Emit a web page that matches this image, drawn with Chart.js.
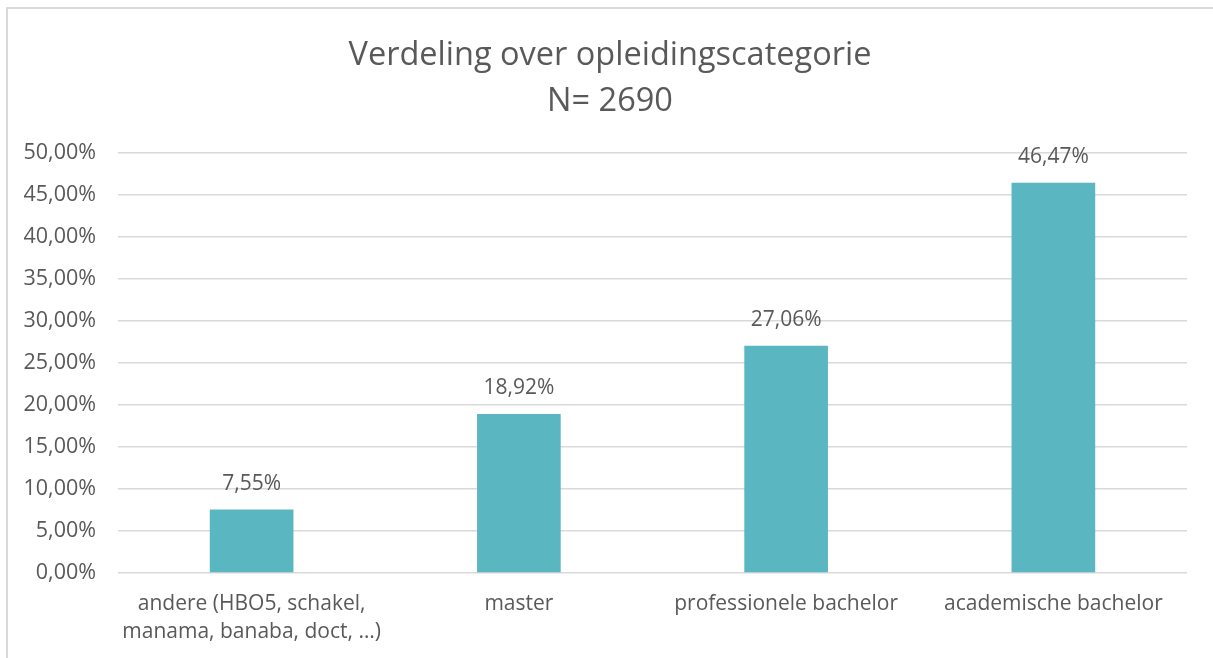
<!DOCTYPE html>
<html>
<head>
<meta charset="utf-8">
<script src="https://cdn.jsdelivr.net/npm/chart.js@4"></script>
<style>
  html, body { margin: 0; padding: 0; background: #fff; }
  #wrap { position: relative; width: 1213px; height: 658px; overflow: hidden; }
  #frame { position: absolute; left: 6px; top: 7px; width: 1300px; height: 700px;
           border-left: 2px solid #d9d9d9; border-top: 2px solid #d9d9d9; pointer-events: none; }
  canvas { position: absolute; left: 0; top: 0; }
</style>
</head>
<body>
<div id="wrap">
  <canvas id="c" width="1213" height="658"></canvas>
  <div id="frame"></div>
</div>
<script>
const titleLines = ["Verdeling over opleidingscategorie", "N= 2690"];
const categories = [
  ["andere (HBO5, schakel,", "manama, banaba, doct, …)"],
  "master",
  "professionele bachelor",
  "academische bachelor"
];
const shares = [7.55, 18.92, 27.06, 46.47];
const yMin = 0, yMax = 50, yStep = 5;

const textColor = "#595959";
const fontFamily = "'Open Sans', 'Noto Sans', sans-serif";
const fmt = v => v.toFixed(2).replace('.', ',') + '%';

const dataLabels = {
  id: 'dataLabels',
  afterDatasetsDraw(chart) {
    const ctx = chart.ctx;
    ctx.save();
    ctx.font = "21px " + fontFamily;
    ctx.fillStyle = textColor;
    ctx.textAlign = 'center';
    ctx.textBaseline = 'middle';
    chart.getDatasetMeta(0).data.forEach((bar, i) => {
      ctx.fillText(fmt(shares[i]), bar.x, bar.y - 26);
    });
    ctx.restore();
  }
};

// centre the title on the whole framed area rather than on the padded layout box
const titleCentre = {
  id: 'titleCentre',
  afterLayout(chart) {
    const t = chart.titleBlock;
    if (t) { t.left = 7; t.right = 1213; t.width = t.right - t.left; }
  }
};

new Chart(document.getElementById('c'), {
  type: 'bar',
  data: {
    labels: categories,
    datasets: [{
      data: shares,
      backgroundColor: '#5ab6c0',
      borderWidth: 0,
      barPercentage: 0.313,
      categoryPercentage: 1
    }]
  },
  options: {
    responsive: false,
    animation: false,
    devicePixelRatio: 1,
    layout: { padding: { left: 0, right: 26, top: 0, bottom: 0 } },
    plugins: {
      legend: { display: false },
      tooltip: { enabled: false },
      title: {
        display: true,
        text: titleLines,
        color: textColor,
        font: { family: fontFamily, size: 32.5, weight: 'normal', lineHeight: 1.415 },
        padding: { top: 33, bottom: 28 }
      }
    },
    scales: {
      x: {
        grid: { display: false, drawTicks: false },
        border: { display: false },
        ticks: {
          color: textColor,
          font: { family: fontFamily, size: 21, lineHeight: 1.333 },
          padding: 17,
          maxRotation: 0,
          autoSkip: false
        },
        afterFit(scale) { scale.height = 85; }
      },
      y: {
        min: yMin, max: yMax,
        grid: { color: '#d9d9d9', lineWidth: 1.5, drawTicks: false },
        border: { display: false },
        ticks: {
          stepSize: yStep,
          color: textColor,
          font: { family: fontFamily, size: 21.5 },
          padding: 22,
          callback: v => fmt(v)
        },
        afterFit(scale) { scale.width = 118; }
      }
    }
  },
  plugins: [dataLabels, titleCentre]
});
</script>
</body>
</html>
